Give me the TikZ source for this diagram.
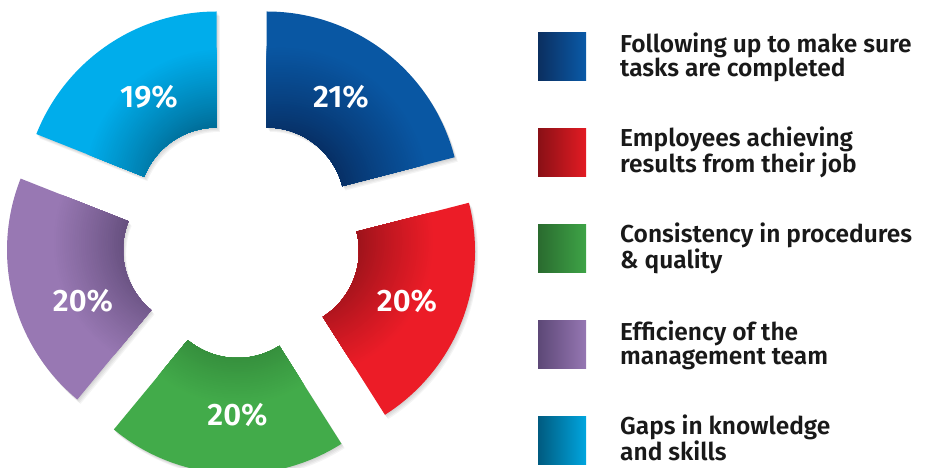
\documentclass[tikz,border=0pt]{standalone}
\usepackage{fontspec}
\setmainfont{Fira Sans}[BoldFont={Fira Sans SemiBold}]
\usetikzlibrary{calc}
\definecolor{bluL}{HTML}{0957A3}\definecolor{bluD}{HTML}{06285A}
\definecolor{cyaL}{HTML}{00ADEB}\definecolor{cyaD}{HTML}{005F86}
\definecolor{purL}{HTML}{9878B3}\definecolor{purD}{HTML}{5A4672}
\definecolor{grnL}{HTML}{42AB4A}\definecolor{grnD}{HTML}{2C7A33}
\definecolor{redL}{HTML}{EC1C27}\definecolor{redD}{HTML}{8A1118}
\definecolor{lgBluA}{HTML}{0B2F60}\definecolor{lgBluB}{HTML}{0A5AA8}
\definecolor{lgRedA}{HTML}{8A1016}\definecolor{lgRedB}{HTML}{E31B23}
\definecolor{lgGrnA}{HTML}{2A6B2F}\definecolor{lgGrnB}{HTML}{3EA447}
\definecolor{lgPurA}{HTML}{5D4877}\definecolor{lgPurB}{HTML}{9677B3}
\definecolor{lgCyaA}{HTML}{005B80}\definecolor{lgCyaB}{HTML}{00A6DF}
\tikzset{
  pct/.style={text=white,font=\bfseries\fontsize{31}{32}\selectfont,inner sep=0pt},
  legtext/.style={anchor=base west,align=left,inner sep=0pt,text=black!90,
    font=\bfseries\fontsize{24.5}{24.4}\selectfont},
  legbox/.style={minimum width=48,minimum height=48,inner sep=0pt,anchor=north west}
}
\begin{document}
\begin{tikzpicture}[x=1pt,y=1pt]
\useasboundingbox (0,0) rectangle (928,468);
% segments: cx/cy/start/end/dark/light/gx/gy/T
\foreach \cx/\cy/\a/\b/\dk/\lt/\gx/\gy/\T in {
  266.7/262.5/14.4/90/bluD/bluL/14/10/150,
  216.7/262.5/90/158.4/cyaD/cyaL/6/18/140,
  201/218/158.4/230.4/purD/purL/-14/8/135,
  237.5/188/230.4/302.4/grnD/grnL/0/0/125,
  281/217/302.4/374.4/redD/redL/14/10/140}{
  \foreach \s in {1,...,4}{
    \fill[black,opacity=0.045,shift={(0.8*\s,-1.1*\s)}] (\cx,\cy) ++(\a:78)
      arc[start angle=\a,end angle=\b,radius=78] -- ++(\b:116)
      arc[start angle=\b,end angle=\a,radius=194] -- cycle;
  }
  \begin{scope}
    \clip (\cx,\cy) ++(\a:78)
      arc[start angle=\a,end angle=\b,radius=78] -- ++(\b:116)
      arc[start angle=\b,end angle=\a,radius=194] -- cycle;
    \fill[\lt] (\cx,\cy) circle (200);
    \foreach \i in {40,39,...,0}{
      \pgfmathsetmacro\rr{50+(\T-50)*(\i+1)/41}
      \pgfmathsetmacro\ff{100*(\i/40)^0.8}
      \fill[\lt!\ff!\dk] (\cx+\gx,\cy+\gy) circle (\rr);
    }
  \end{scope}
}
\node[pct] (p21) at (341,371) {21\%};
\node[pct] (p19) at (149,371) {19\%};
\node[pct] (p20a) at (83,167) {20\%};
\node[pct] (p20b) at (407,167) {20\%};
\node[pct] (p20c) at (237.5,53) {20\%};
% legend (base anchor = baseline of the second line)
\foreach \k/\ca/\cb/\txt in {
  0/lgBluA/lgBluB/{Following up to make sure\\tasks are completed},
  1/lgRedA/lgRedB/{Employees achieving\\results from their job},
  2/lgGrnA/lgGrnB/{Consistency in procedures\\\& quality},
  3/lgPurA/lgPurB/{Efficiency of the\\management team},
  4/lgCyaA/lgCyaB/{Gaps in knowledge\\and skills}}{
  \node[legbox,left color=\ca,right color=\cb] (box\k) at (538,436-96*\k) {};
  \node[legtext] (txt\k) at (620,391.3-96*\k) {\txt};
}
\end{tikzpicture}
\end{document}
